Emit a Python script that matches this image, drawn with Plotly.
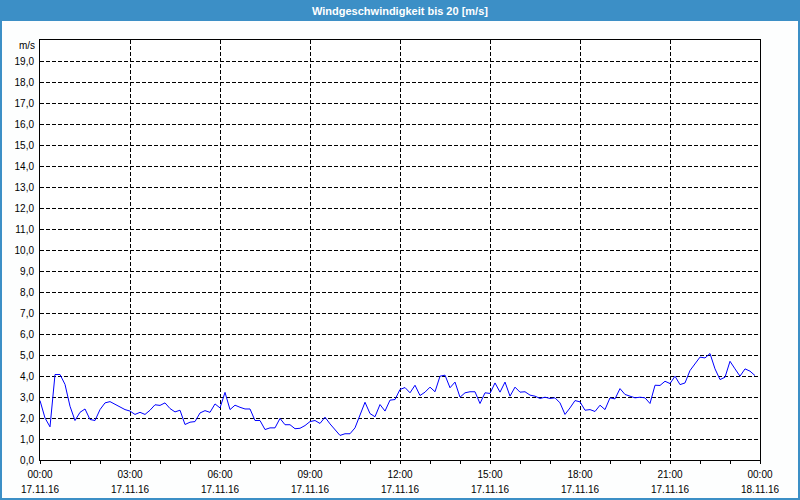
import plotly.graph_objects as go
import pandas as pd

# ---- data ----
start_time = "2016-11-17 00:00"
interval = "10min"
speed = [
    2.83, 2.0, 1.58, 4.07, 4.07, 3.6, 2.56, 1.88, 2.27, 2.43,
    1.93, 1.88, 2.4, 2.72, 2.78, 2.64, 2.51, 2.4, 2.33, 2.17,
    2.27, 2.17, 2.37, 2.63, 2.6, 2.72, 2.45, 2.29, 2.37, 1.69,
    1.8, 1.83, 2.24, 2.35, 2.27, 2.67, 2.48, 3.22, 2.4, 2.61,
    2.51, 2.43, 2.43, 1.88, 1.88, 1.45, 1.53, 1.53, 1.98, 1.68,
    1.68, 1.49, 1.51, 1.64, 1.83, 1.88, 1.74, 2.04, 1.72, 1.45,
    1.17, 1.25, 1.25, 1.53, 2.17, 2.75, 2.21, 2.06, 2.64, 2.33,
    2.85, 2.88, 3.36, 3.45, 3.2, 3.56, 3.07, 3.23, 3.47, 3.25,
    3.99, 4.04, 3.44, 3.71, 2.99, 3.2, 3.25, 3.25, 2.69, 3.2,
    3.17, 3.67, 3.23, 3.71, 3.04, 3.47, 3.23, 3.25, 3.09, 3.04,
    2.93, 2.99, 2.93, 2.96, 2.72, 2.17, 2.48, 2.83, 2.77, 2.37,
    2.4, 2.31, 2.61, 2.4, 2.96, 2.91, 3.4, 3.12, 3.04, 2.96,
    2.99, 2.96, 2.69, 3.56, 3.55, 3.75, 3.64, 3.99, 3.59, 3.67,
    4.26, 4.58, 4.9, 4.86, 5.07, 4.34, 3.83, 3.94, 4.7, 4.34,
    3.99, 4.34, 4.23, 4.02,
]
times = pd.date_range(start_time, periods=len(speed), freq=interval)

x_tick_vals = ["2016-11-17 00:00", "2016-11-17 03:00", "2016-11-17 06:00",
               "2016-11-17 09:00", "2016-11-17 12:00", "2016-11-17 15:00",
               "2016-11-17 18:00", "2016-11-17 21:00", "2016-11-18 00:00"]
x_tick_time = ["00:00", "03:00", "06:00", "09:00", "12:00", "15:00",
               "18:00", "21:00", "00:00"]
x_tick_date = ["17.11.16", "17.11.16", "17.11.16", "17.11.16", "17.11.16",
               "17.11.16", "17.11.16", "17.11.16", "18.11.16"]
y_tick_vals = list(range(0, 20))
y_tick_text = [f"{v},0" for v in y_tick_vals]
y_unit = "m/s"
title = "Windgeschwindigkeit bis 20 [m/s]"

# ---- layout helpers (pixel -> paper) ----
W, H = 800, 500
ML, MR, MT, MB = 40, 40, 40, 40
PW, PH = W - ML - MR, H - MT - MB


def px(x):
    return (x - ML) / PW


def py(y):
    return (H - MB - y) / PH


BLUE = "#3c8fc6"
FONT = "Liberation Sans"

fig = go.Figure()
fig.add_trace(go.Scatter(x=times, y=speed, mode="lines",
                         line=dict(color="#0000ff", width=1),
                         hoverinfo="skip", showlegend=False))

annotations = [
    dict(text=f"<b>{title}</b>", x=0.5, y=py(10.5), xref="paper", yref="paper",
         xanchor="center", yanchor="middle", showarrow=False,
         font=dict(family=FONT, size=11, color="white")),
    dict(text=y_unit, x=px(37), y=py(46), xref="paper", yref="paper",
         xanchor="right", yanchor="middle", showarrow=False,
         font=dict(family=FONT, size=10, color="black")),
]
for xv, d in zip(x_tick_vals, x_tick_date):
    annotations.append(dict(text=d, x=xv, xref="x", y=0, yref="paper",
                            xanchor="center", yanchor="top", yshift=-22,
                            showarrow=False,
                            font=dict(family=FONT, size=10, color="black")))

shapes = [
    dict(type="rect", xref="paper", yref="paper",
         x0=px(0), x1=px(800), y0=py(21), y1=py(0),
         fillcolor=BLUE, line=dict(width=0), layer="below"),
    dict(type="rect", xref="paper", yref="paper",
         x0=px(1), x1=px(799), y0=py(499), y1=py(20),
         fillcolor="rgba(0,0,0,0)", line=dict(color=BLUE, width=2)),
]

fig.update_layout(
    width=W, height=H,
    margin=dict(l=ML, r=MR, t=MT, b=MB, pad=0),
    paper_bgcolor="#fdfefe", plot_bgcolor="white",
    font=dict(family=FONT, size=10, color="black"),
    annotations=annotations, shapes=shapes,
    showlegend=False,
)
fig.update_xaxes(
    type="date", range=[x_tick_vals[0], x_tick_vals[-1]],
    tickmode="array", tickvals=x_tick_vals, ticktext=x_tick_time,
    ticks="outside", ticklen=3, tickcolor="black", tickwidth=1,
    ticklabelstandoff=2,
    showgrid=True, gridcolor="black", gridwidth=1, griddash="4px,2px",
    minor=dict(dtick=3600000, ticks="outside", ticklen=3, tickcolor="black",
               showgrid=False),
    showline=True, linecolor="black", linewidth=1, mirror=True,
    zeroline=False, tickfont=dict(family=FONT, size=10, color="black"),
    fixedrange=True,
)
fig.update_yaxes(
    range=[0, 20], tickmode="array", tickvals=y_tick_vals, ticktext=y_tick_text,
    ticks="", showgrid=True, gridcolor="black", gridwidth=1, griddash="4px,2px",
    showline=True, linecolor="black", linewidth=1, mirror=True,
    zeroline=False, ticklabelstandoff=3,
    tickfont=dict(family=FONT, size=10, color="black"),
    fixedrange=True,
)

fig.write_html("out.html")
